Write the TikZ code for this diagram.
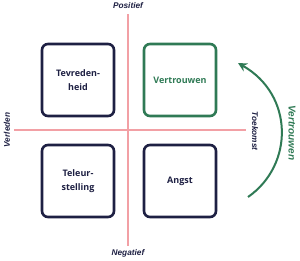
\documentclass[tikz,border=0pt]{standalone}
\usepackage{fontspec}
\setmainfont{Open Sans}
\newfontfamily\labfont{Liberation Sans}
\usetikzlibrary{arrows.meta}
\definecolor{navy}{HTML}{1E2043}
\definecolor{vgreen}{HTML}{2F7A55}
\definecolor{axpink}{HTML}{F2A0A5}
\begin{document}
\begin{tikzpicture}[x=1pt,y=-1pt,
  quad/.style={draw=navy, line width=2.6pt, rounded corners=6pt, minimum width=72pt, minimum height=72pt, align=center, font=\bfseries\fontsize{9}{14}\selectfont, text=navy},
  axis/.style={draw=axpink, line width=2.4pt},
  axlabel/.style={font=\labfont\bfseries\itshape\fontsize{8.3}{10}\selectfont, text=navy}]
\useasboundingbox (0,0) rectangle (300,260);
\coordinate (top) at (128,14);
\coordinate (bot) at (128,246);
\coordinate (lft) at (14,130);
\coordinate (rgt) at (246,130);
\draw[axis] (top) -- (bot);
\draw[axis] (lft) -- (rgt);
\node[quad] (tev) at (78,80) {Tevreden-\\heid};
\node[quad, draw=vgreen, text=vgreen] (ver) at (180,80) {Vertrouwen};
\node[quad] (tel) at (78,181) {Teleur-\\stelling};
\node[quad] (ang) at (180,181) {Angst};
\node[axlabel] (pos) at (128,6) {Positief};
\node[axlabel] (neg) at (128,253) {Negatief};
\node[axlabel, rotate=90] (verl) at (7,130) {Verleden};
\node[axlabel, rotate=-90] (toek) at (255,131) {Toekomst};
\node[axlabel, rotate=-90, text=vgreen, font=\labfont\bfseries\itshape\fontsize{10}{12}\selectfont] (vlab) at (292,133) {Vertrouwen};
\coordinate (as) at (248,197);
\coordinate (ae) at (238,63);
\draw[vgreen, line width=2pt, -{Stealth[length=9pt,width=9pt]}] (as) .. controls (294,165) and (294,95) .. (ae);
\end{tikzpicture}
\end{document}
